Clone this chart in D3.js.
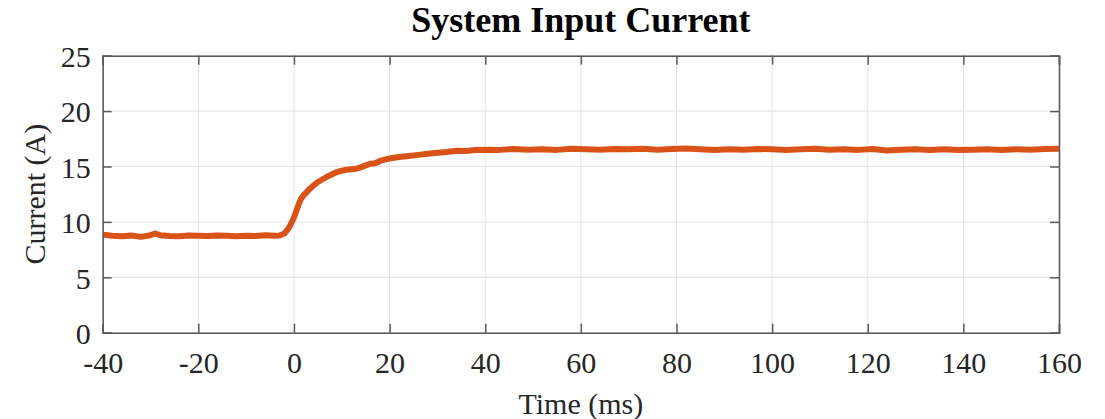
<!DOCTYPE html>
<html lang="en">
<head>
    <meta charset="UTF-8">
    <title>System Input Current</title>
    <script src="https://cdnjs.cloudflare.com/ajax/libs/d3/7.8.5/d3.min.js"></script>
    <style>
        body { margin: 0; background: #fff; }
    </style>
</head>
<body>
    <div id="wrapper"></div>
    <script>
        const timeMs = [
            -40, -38, -36, -34, -32, -30, -29, -28, -26, -24, -22, -20, -18, -16, -14, -12, -10, -8, -6, -4, -3, -2, -1,
            0, 0.5, 1, 1.5, 2, 3, 4, 5, 6, 7, 8, 9, 10, 11, 12, 13, 14, 15, 16, 17, 18, 19, 20,
            22, 24, 26, 28, 30, 32, 34, 36, 38, 40,
            43, 46, 49, 52, 55, 58, 61, 64, 67, 70, 73, 76, 79, 82, 85, 88, 91, 94, 97, 100,
            103, 106, 109, 112, 115, 118, 121, 124, 127, 130, 133, 136, 139, 142, 145, 148, 151, 154, 157, 160
        ]
        const currentA = [
            8.85, 8.75, 8.7, 8.78, 8.65, 8.8, 8.95, 8.8, 8.72, 8.7, 8.78, 8.75, 8.72, 8.78, 8.74, 8.7, 8.76, 8.72, 8.8, 8.74, 8.78, 8.95, 9.5,
            10.4, 11.0, 11.6, 12.1, 12.4, 12.85, 13.25, 13.6, 13.85, 14.1, 14.3, 14.5, 14.62, 14.7, 14.75, 14.8, 14.92, 15.1, 15.25, 15.3, 15.5, 15.62, 15.72,
            15.85, 15.95, 16.05, 16.15, 16.25, 16.3, 16.42, 16.4, 16.48, 16.52,
            16.5, 16.58, 16.52, 16.55, 16.5, 16.6, 16.56, 16.52, 16.58, 16.55, 16.6, 16.52, 16.58, 16.62, 16.55, 16.5, 16.56, 16.52, 16.58, 16.55,
            16.5, 16.56, 16.6, 16.52, 16.55, 16.5, 16.58, 16.45, 16.52, 16.56, 16.5, 16.55, 16.48, 16.52, 16.56, 16.5, 16.55, 16.52, 16.58, 16.6
        ]
        const xTicks = [-40, -20, 0, 20, 40, 60, 80, 100, 120, 140, 160]
        const yTicks = [0, 5, 10, 15, 20, 25]

        const dataset = timeMs.map((t, i) => ({ t, v: currentA[i] }))

        const dimensions = {
            width: 1105,
            height: 419,
            margin: { top: 55.7, right: 46, bottom: 86.3, left: 102.7 }
        }
        dimensions.boundedWidth = dimensions.width - dimensions.margin.left - dimensions.margin.right
        dimensions.boundedHeight = dimensions.height - dimensions.margin.top - dimensions.margin.bottom

        const font = '"Liberation Serif", "Times New Roman", serif'
        const axisColor = '#595959'

        const svg = d3.select('#wrapper')
            .append('svg')
            .attr('width', dimensions.width)
            .attr('height', dimensions.height)

        const bounds = svg.append('g')
            .attr('transform', `translate(${dimensions.margin.left},${dimensions.margin.top})`)

        const xScale = d3.scaleLinear()
            .domain([-40, 160])
            .range([0, dimensions.boundedWidth])

        const yScale = d3.scaleLinear()
            .domain([0, 25])
            .range([dimensions.boundedHeight, 0])

        // grid
        bounds.append('g')
            .selectAll('line')
            .data(xTicks)
            .join('line')
            .attr('x1', d => xScale(d)).attr('x2', d => xScale(d))
            .attr('y1', 0).attr('y2', dimensions.boundedHeight)
            .attr('stroke', '#e3e3e3').attr('stroke-width', 1)

        bounds.append('g')
            .selectAll('line')
            .data(yTicks)
            .join('line')
            .attr('y1', d => yScale(d)).attr('y2', d => yScale(d))
            .attr('x1', 0).attr('x2', dimensions.boundedWidth)
            .attr('stroke', '#e3e3e3').attr('stroke-width', 1)

        // line
        const lineGenerator = d3.line()
            .x(d => xScale(d.t))
            .y(d => yScale(d.v))

        bounds.append('path')
            .attr('d', lineGenerator(dataset))
            .attr('fill', 'none')
            .attr('stroke', '#d95319')
            .attr('stroke-width', 6)
            .attr('stroke-linejoin', 'round')

        // axes, ticks pointing inward, box all round
        const tickLen = 9
        // plain hyphen for negatives, like the reference
        const plain = d => String(d)
        const xAxisGenerator = d3.axisBottom(xScale).tickValues(xTicks).tickSize(-tickLen).tickPadding(19).tickFormat(plain)
        const yAxisGenerator = d3.axisLeft(yScale).tickValues(yTicks).tickSize(-tickLen).tickPadding(12).tickFormat(plain)

        const xAxis = bounds.append('g')
            .attr('transform', `translate(0,${dimensions.boundedHeight})`)
            .call(xAxisGenerator)
        const yAxis = bounds.append('g').call(yAxisGenerator)

        const xAxisTop = bounds.append('g')
            .call(d3.axisTop(xScale).tickValues(xTicks).tickSize(-tickLen).tickFormat(''))
        const yAxisRight = bounds.append('g')
            .attr('transform', `translate(${dimensions.boundedWidth},0)`)
            .call(d3.axisRight(yScale).tickValues(yTicks).tickSize(-tickLen).tickFormat(''))

        ;[xAxis, yAxis, xAxisTop, yAxisRight].forEach(ax => {
            ax.select('.domain').attr('stroke', axisColor).attr('stroke-width', 1.5)
            ax.selectAll('.tick line').attr('stroke', axisColor).attr('stroke-width', 1.5)
            ax.selectAll('.tick text')
                .attr('fill', '#262626')
                .style('font-family', font)
                .style('font-size', '30px')
        })
        xAxis.selectAll('.tick text').attr('dy', '0.71em')
        yAxis.selectAll('.tick text').attr('dy', '0.36em')

        // labels
        svg.append('text')
            .attr('x', dimensions.margin.left + dimensions.boundedWidth / 2)
            .attr('y', 32)
            .attr('text-anchor', 'middle')
            .style('font-family', font)
            .style('font-size', '36px')
            .style('font-weight', 'bold')
            .attr('fill', '#000')
            .text('System Input Current')

        svg.append('text')
            .attr('x', dimensions.margin.left + dimensions.boundedWidth / 2)
            .attr('y', 414)
            .attr('text-anchor', 'middle')
            .style('font-family', font)
            .style('font-size', '30px')
            .attr('fill', '#262626')
            .text('Time (ms)')

        svg.append('text')
            .attr('transform', `translate(45,${dimensions.margin.top + dimensions.boundedHeight / 2}) rotate(-90)`)
            .attr('text-anchor', 'middle')
            .style('font-family', font)
            .style('font-size', '30px')
            .attr('fill', '#262626')
            .text('Current (A)')
    </script>
</body>
</html>
